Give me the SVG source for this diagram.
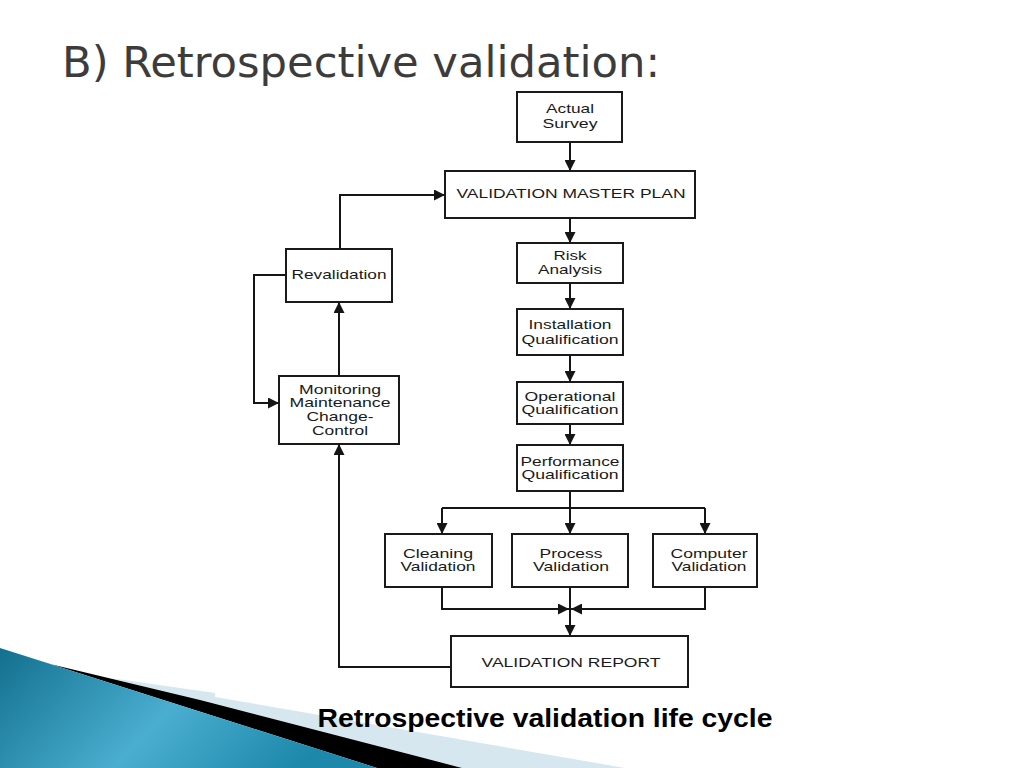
<svg xmlns="http://www.w3.org/2000/svg" width="1024" height="768" viewBox="0 0 1024 768">
<defs>
<linearGradient id="blueg" x1="0" y1="0" x2="1" y2="0.3">
<stop offset="0" stop-color="#13708e"/>
<stop offset="0.55" stop-color="#4aaed0"/>
<stop offset="1" stop-color="#1d88aa"/>
</linearGradient>
<marker id="ah" viewBox="0 0 10 10" refX="10" refY="5" markerWidth="11" markerHeight="11" markerUnits="userSpaceOnUse" orient="auto">
<path d="M0,0 L10,5 L0,10 Z" fill="#151515"/>
</marker>
<style>
.box{fill:#ffffff;stroke:#1a1a1a;stroke-width:2}
.lbl{font-family:"Liberation Sans",Arial,sans-serif;font-size:13.5px;fill:#1a1a1a;text-anchor:middle}
.cn{fill:none;stroke:#151515;stroke-width:2}
.ar{marker-end:url(#ah)}
</style>
</defs>
<rect width="1024" height="768" fill="#ffffff"/>
<g id="background">
<polygon points="110,678 215,693 215,697 625,768 462,768" fill="#d6e7f0"/>
<polygon points="50,664 200,700 420,757 462,768 377,768 0,648" fill="#000000"/>
<polygon points="0,648 377,768 0,768" fill="url(#blueg)"/>
</g>
<text x="62" y="77" font-family="DejaVu Sans Condensed, DejaVu Sans, sans-serif" font-size="42" fill="#3c3c3c" textLength="598" lengthAdjust="spacingAndGlyphs">B) Retrospective validation:</text>
<g id="connectors">
<line class="cn ar" x1="570" y1="142" x2="570" y2="171"/>
<line class="cn ar" x1="570" y1="218" x2="570" y2="243"/>
<line class="cn ar" x1="570" y1="283" x2="570" y2="309"/>
<line class="cn ar" x1="570" y1="355" x2="570" y2="382"/>
<line class="cn ar" x1="570" y1="424" x2="570" y2="445"/>
<line class="cn" x1="570" y1="491" x2="570" y2="508"/>
<line class="cn" x1="442" y1="508" x2="705" y2="508"/>
<line class="cn ar" x1="442" y1="508" x2="442" y2="534"/>
<line class="cn ar" x1="570" y1="508" x2="570" y2="534"/>
<line class="cn ar" x1="705" y1="508" x2="705" y2="534"/>
<polyline class="cn ar" points="442,587 442,609 569,609"/>
<polyline class="cn ar" points="705,587 705,609 571,609"/>
<line class="cn ar" x1="570" y1="587" x2="570" y2="636"/>
<polyline class="cn ar" points="451,667 339,667 339,444"/>
<line class="cn ar" x1="339" y1="376" x2="339" y2="302"/>
<polyline class="cn ar" points="340,249 340,195 445,195"/>
<polyline class="cn ar" points="286,275 254,275 254,403 279,403"/>
</g>
<g id="actual-survey">
<rect class="box" x="517" y="92" width="105" height="50"/>
<text class="lbl" x="570" y="113" textLength="48" lengthAdjust="spacingAndGlyphs">Actual</text>
<text class="lbl" x="570" y="128" textLength="55" lengthAdjust="spacingAndGlyphs">Survey</text>
</g>
<g id="vmp">
<rect class="box" x="445" y="171" width="250" height="47"/>
<text class="lbl" x="571" y="198" textLength="229" lengthAdjust="spacingAndGlyphs">VALIDATION MASTER PLAN</text>
</g>
<g id="risk">
<rect class="box" x="517" y="243" width="106" height="40"/>
<text class="lbl" x="570" y="260" textLength="33" lengthAdjust="spacingAndGlyphs">Risk</text>
<text class="lbl" x="570" y="274" textLength="64" lengthAdjust="spacingAndGlyphs">Analysis</text>
</g>
<g id="iq">
<rect class="box" x="517" y="309" width="106" height="46"/>
<text class="lbl" x="570" y="329" textLength="83" lengthAdjust="spacingAndGlyphs">Installation</text>
<text class="lbl" x="570" y="344" textLength="97" lengthAdjust="spacingAndGlyphs">Qualification</text>
</g>
<g id="oq">
<rect class="box" x="517" y="382" width="106" height="42"/>
<text class="lbl" x="570" y="401" textLength="91" lengthAdjust="spacingAndGlyphs">Operational</text>
<text class="lbl" x="570" y="414" textLength="97" lengthAdjust="spacingAndGlyphs">Qualification</text>
</g>
<g id="pq">
<rect class="box" x="517" y="445" width="106" height="46"/>
<text class="lbl" x="570" y="466" textLength="99" lengthAdjust="spacingAndGlyphs">Performance</text>
<text class="lbl" x="570" y="479" textLength="97" lengthAdjust="spacingAndGlyphs">Qualification</text>
</g>
<g id="cleaning">
<rect class="box" x="385" y="534" width="107" height="53"/>
<text class="lbl" x="438" y="558" textLength="70" lengthAdjust="spacingAndGlyphs">Cleaning</text>
<text class="lbl" x="438" y="571" textLength="75" lengthAdjust="spacingAndGlyphs">Validation</text>
</g>
<g id="process">
<rect class="box" x="512" y="534" width="116" height="53"/>
<text class="lbl" x="571" y="558" textLength="63" lengthAdjust="spacingAndGlyphs">Process</text>
<text class="lbl" x="571" y="571" textLength="76" lengthAdjust="spacingAndGlyphs">Validation</text>
</g>
<g id="computer">
<rect class="box" x="653" y="534" width="104" height="53"/>
<text class="lbl" x="709" y="558" textLength="77" lengthAdjust="spacingAndGlyphs">Computer</text>
<text class="lbl" x="709" y="571" textLength="75" lengthAdjust="spacingAndGlyphs">Validation</text>
</g>
<g id="report">
<rect class="box" x="451" y="636" width="237" height="51"/>
<text class="lbl" x="571" y="667" textLength="179" lengthAdjust="spacingAndGlyphs">VALIDATION REPORT</text>
</g>
<g id="monitoring">
<rect class="box" x="279" y="376" width="120" height="68"/>
<text class="lbl" x="340" y="394" textLength="82" lengthAdjust="spacingAndGlyphs">Monitoring</text>
<text class="lbl" x="340" y="407" textLength="101" lengthAdjust="spacingAndGlyphs">Maintenance</text>
<text class="lbl" x="340" y="421" textLength="67" lengthAdjust="spacingAndGlyphs">Change-</text>
<text class="lbl" x="340" y="435" textLength="56" lengthAdjust="spacingAndGlyphs">Control</text>
</g>
<g id="revalidation">
<rect class="box" x="286" y="249" width="106" height="53"/>
<text class="lbl" x="339" y="279" textLength="95" lengthAdjust="spacingAndGlyphs">Revalidation</text>
</g>
<text x="545" y="727" font-family="Liberation Sans, Arial, sans-serif" font-size="26" font-weight="bold" fill="#000000" text-anchor="middle" textLength="455" lengthAdjust="spacingAndGlyphs">Retrospective validation life cycle</text>
</svg>
